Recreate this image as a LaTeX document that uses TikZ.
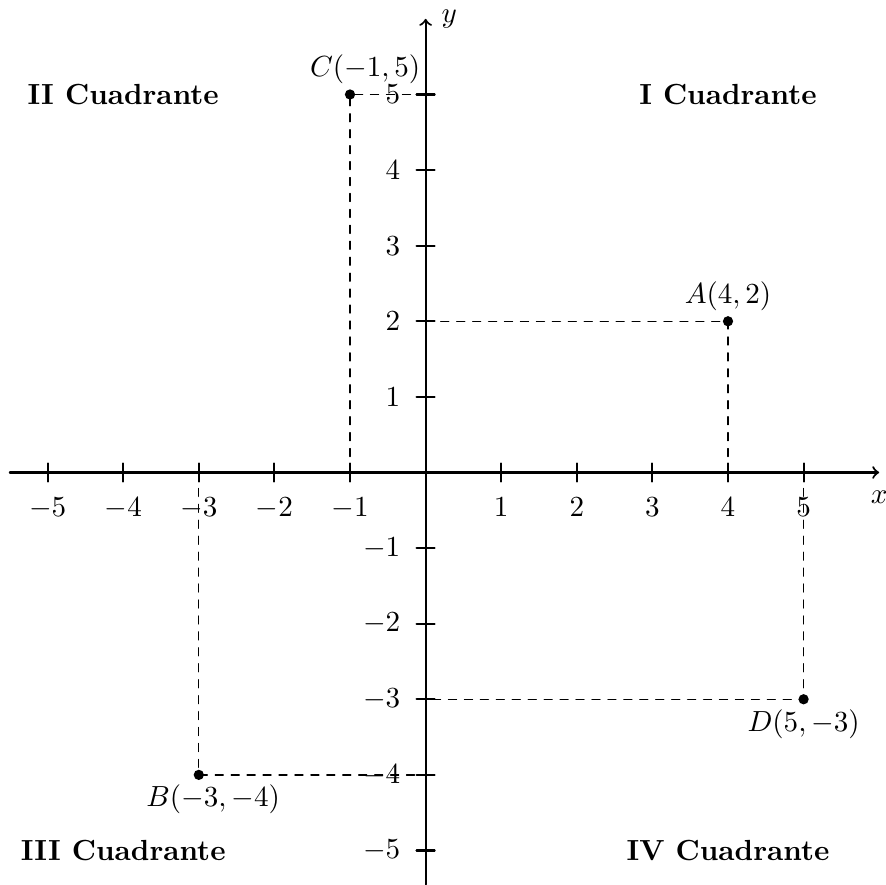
\documentclass[tikz,border=0pt,11pt]{standalone}

\begin{document}
\begin{tikzpicture}[
    x=1cm,
    y=1cm,
    line cap=round,
    line join=round,
    axis/.style={thick, ->},
    tickmark/.style={thick},
    guide/.style={line width=0.5pt, dashed},
    dot/.style={fill=black},
    quadrant/.style={font=\bfseries}
]
    % Plane geometry
    \def\ticklen{0.12}
    \def\labelgap{0.2}
    \def\dotsize{0.068}

    \useasboundingbox (-5.63,-5.45) rectangle (6.09,6.25);

    % Points and their projections on the axes
    \foreach \pname/\px/\py in {A/4/2, B/-3/-4, C/-1/5, D/5/-3} {
        \coordinate (\pname) at (\px,\py);
        \coordinate (\pname x) at (\px,0);
        \coordinate (\pname y) at (0,\py);
        \draw[guide] (\pname x) -- (\pname) -- (\pname y);
    }

    % Axes
    \coordinate (xstart) at (-5.5,0);
    \coordinate (xend) at (6,0);
    \coordinate (ystart) at (0,-5.45);
    \coordinate (yend) at (0,6);
    \draw[axis] (xstart) -- (xend) node[below=3pt] (xname) {$x$};
    \draw[axis] (ystart) -- (yend) node[right=2pt] (yname) {$y$};

    % Ticks and their numbers
    \foreach \i in {-5,-4,-3,-2,-1,1,2,3,4,5} {
        \draw[tickmark] (\i,\ticklen) -- (\i,-\ticklen);
        \node[below] (xnum\i) at (\i,-\labelgap) {$\i$};
        \draw[tickmark] (-\ticklen,\i) -- (\ticklen,\i);
        \node[left] (ynum\i) at (-\labelgap,\i) {$\i$};
    }

    % Dots
    \foreach \pname in {A,B,C,D} {
        \fill[dot] (\pname) circle[radius=\dotsize];
    }

    % Point labels
    \node[above] (Alabel) at (A) {$A(4,2)$};
    \node[below, xshift=0.19cm] (Blabel) at (B) {$B(-3,-4)$};
    \node[above, xshift=0.2cm] (Clabel) at (C) {$C(-1,5)$};
    \node[below] (Dlabel) at (D) {$D(5,-3)$};

    % Quadrant names
    \node[quadrant] (q1) at (4,5) {I Cuadrante};
    \node[quadrant] (q2) at (-4,5) {II Cuadrante};
    \node[quadrant] (q3) at (-4,-5) {III Cuadrante};
    \node[quadrant] (q4) at (4,-5) {IV Cuadrante};
\end{tikzpicture}
\end{document}
